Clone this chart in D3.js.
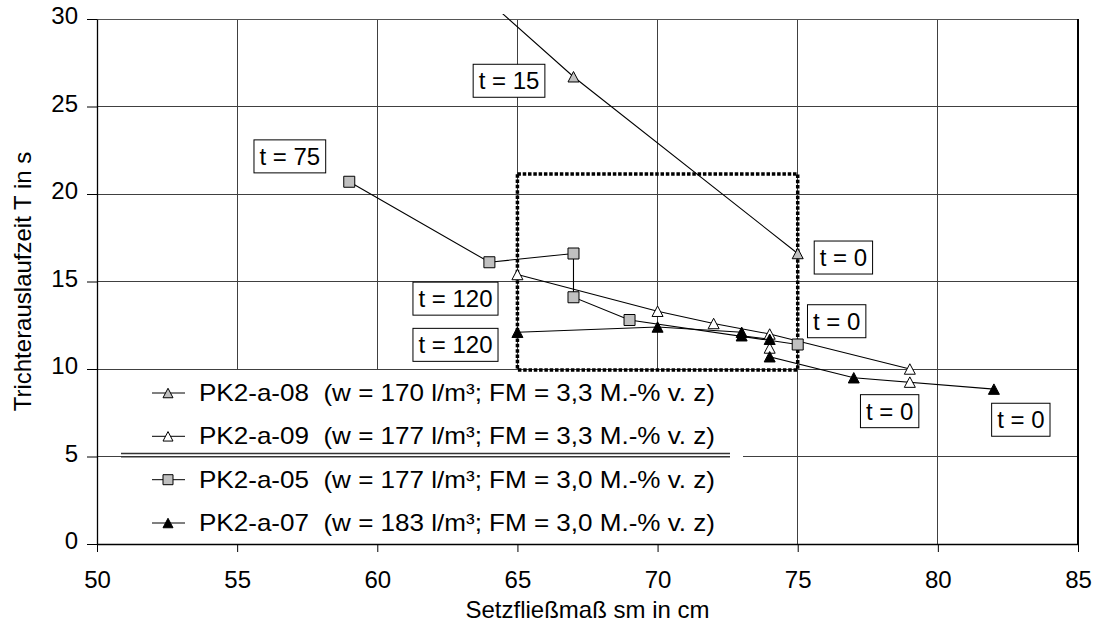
<!DOCTYPE html>
<html>
<head>
<meta charset="utf-8">
<script src="https://cdn.jsdelivr.net/npm/d3@7"></script>
<style>
  html, body { margin: 0; padding: 0; background: #fff; }
  svg { display: block; font-family: "Liberation Sans", Arial, sans-serif; }
</style>
</head>
<body>
<svg id="chart" width="1097" height="626"></svg>
<script>
// ---------- data ----------
const xTicks = [50, 55, 60, 65, 70, 75, 80, 85];
const yTicks = [0, 5, 10, 15, 20, 25, 30];

const seriesNames = ["PK2-a-08", "PK2-a-09", "PK2-a-05", "PK2-a-07"];
const seriesInfo = [
  "(w = 170 l/m³; FM = 3,3 M.-% v. z)",
  "(w = 177 l/m³; FM = 3,3 M.-% v. z)",
  "(w = 177 l/m³; FM = 3,0 M.-% v. z)",
  "(w = 183 l/m³; FM = 3,0 M.-% v. z)"
];

const pk08X = [75, 67, 63];
const pk08Y = [16.6, 26.7, 32.4];

const pk09X = [79, 74, 72, 70, 65];
const pk09Y = [10.0, 12.0, 12.6, 13.3, 15.4];
const pk09bX = [79, 74];          // unconnected points
const pk09bY = [9.25, 11.2];

const pk05X = [75, 69, 67, 67, 64, 59];
const pk05Y = [11.4, 12.8, 14.1, 16.6, 16.1, 20.7];

const pk07X = [82, 77, 74, 74, 73, 73, 70, 65];
const pk07Y = [8.85, 9.5, 10.7, 11.7, 11.9, 12.1, 12.4, 12.1];

const annText = ["t = 15", "t = 75", "t = 120", "t = 120", "t = 0", "t = 0", "t = 0", "t = 0"];
const annX = [64.70, 56.88, 62.79, 62.79, 76.63, 76.39, 78.28, 82.96];
const annY = [26.47, 22.15, 14.02, 11.38, 16.37, 12.73, 7.59, 7.10];

const regionX = [65, 75];
const regionY = [9.95, 21.15];

// ---------- layout ----------
const L = 97, R = 1078, T = 19, B = 544;
const FONT = 24;
const svg = d3.select("#chart");
const x = d3.scaleLinear().domain([50, 85]).range([L, R]);
const y = d3.scaleLinear().domain([0, 30]).range([B, T]);

svg.append("defs").append("clipPath").attr("id", "clip")
  .append("rect").attr("x", L).attr("y", T - 5).attr("width", R - L).attr("height", B - T + 5);

// gridlines
const grid = svg.append("g").attr("shape-rendering", "crispEdges");
grid.selectAll(".vg").data(xTicks.filter(d => d > 50 && d < 85)).enter().append("line")
  .attr("x1", d => x(d)).attr("x2", d => x(d)).attr("y1", T).attr("y2", B)
  .attr("stroke", "#404040").attr("stroke-width", 1);
grid.selectAll(".hg").data(yTicks.filter(d => d > 0 && d < 30)).enter().append("line")
  .attr("x1", L).attr("x2", R).attr("y1", d => y(d)).attr("y2", d => y(d))
  .attr("stroke", "#404040").attr("stroke-width", 1);
// top border
grid.append("line").attr("x1", L).attr("x2", R).attr("y1", y(30)).attr("y2", y(30))
  .attr("stroke", "#555").attr("stroke-width", 1);

// legend background
const legX0 = 121, legX1 = 743, legY0 = y(10) + 1;
svg.append("rect").attr("x", legX0).attr("y", legY0).attr("width", legX1 - legX0)
  .attr("height", B - legY0).attr("fill", "#fff");

// dotted region
svg.append("rect")
  .attr("x", x(regionX[0])).attr("y", y(regionY[1]))
  .attr("width", x(regionX[1]) - x(regionX[0])).attr("height", y(regionY[0]) - y(regionY[1]))
  .attr("fill", "none").attr("stroke", "#000").attr("stroke-width", 3.5)
  .attr("stroke-dasharray", "3.5,1.8");

// right border
svg.append("line").attr("x1", R).attr("x2", R).attr("y1", T).attr("y2", B)
  .attr("stroke", "#000").attr("stroke-width", 2);

// axes
const xAxis = d3.axisBottom(x).tickValues(xTicks).tickSize(8).tickSizeOuter(0).tickPadding(19);
const yAxis = d3.axisLeft(y).tickValues(yTicks).tickSize(10).tickSizeOuter(0).tickPadding(9);
const gx = svg.append("g").attr("transform", `translate(0,${B})`).call(xAxis);
const gy = svg.append("g").attr("transform", `translate(${L},0)`).call(yAxis);
[gx, gy].forEach(g => {
  g.selectAll("text").attr("font-size", FONT).attr("fill", "#000")
    .attr("font-family", "'Liberation Sans', Arial, sans-serif");
  g.selectAll("line").attr("stroke", "#000");
  g.select(".domain").attr("stroke", "#000").attr("stroke-width", 1.3);
});
gy.selectAll("text").attr("dy", "0.2em");

// axis titles
svg.append("text").attr("x", (L + R) / 2).attr("y", 618).attr("text-anchor", "middle")
  .attr("font-size", FONT).text("Setzfließmaß sm in cm");
svg.append("text").attr("transform", `translate(31,${(T + B) / 2}) rotate(-90)`)
  .attr("text-anchor", "middle").attr("font-size", FONT).text("Trichterauslaufzeit T in s");

// markers
function triPath(s) {
  const h = s * 0.95;
  return `M0,${-h / 2}L${s / 2},${h / 2}L${-s / 2},${h / 2}Z`;
}
function sqPath(s) {
  return `M${-s / 2},${-s / 2}h${s}v${s}h${-s}Z`;
}
const styles = [
  { path: triPath, fill: "#c0c0c0" },
  { path: triPath, fill: "#ffffff" },
  { path: sqPath, fill: "#c0c0c0" },
  { path: triPath, fill: "#000000" }
];

// legend
const legBase = [401, 444.3, 487.7, 531];
const leg = svg.append("g");
seriesNames.forEach((n, i) => {
  const cy = legBase[i] - 8;
  leg.append("line").attr("x1", 152).attr("x2", 185).attr("y1", cy).attr("y2", cy)
    .attr("stroke", "#000").attr("stroke-width", 1);
  leg.append("path").attr("d", styles[i].path(10)).attr("transform", `translate(168,${cy})`)
    .attr("fill", styles[i].fill).attr("stroke", "#000").attr("stroke-width", 1);
  leg.append("text").attr("x", 199).attr("y", legBase[i]).attr("font-size", FONT)
    .attr("textLength", 516).attr("lengthAdjust", "spacingAndGlyphs")
    .attr("xml:space", "preserve").style("white-space", "pre")
    .text(n + "  " + seriesInfo[i]);
});
// double separator line
[453.5, 456.8].forEach(yy => {
  leg.append("line").attr("x1", 121).attr("x2", 730).attr("y1", yy).attr("y2", yy)
    .attr("stroke", "#333").attr("stroke-width", 1.4);
});

// series
const seriesData = [
  { xs: pk08X, ys: pk08Y, line: true, st: 0 },
  { xs: pk09X, ys: pk09Y, line: true, st: 1 },
  { xs: pk09bX, ys: pk09bY, line: false, st: 1 },
  { xs: pk05X, ys: pk05Y, line: true, st: 2 },
  { xs: pk07X, ys: pk07Y, line: true, st: 3 }
];
const lineGen = d3.line().x(d => x(d[0])).y(d => y(d[1]));
const plotG = svg.append("g").attr("clip-path", "url(#clip)");
seriesData.forEach(s => {
  const pts = s.xs.map((v, i) => [v, s.ys[i]]);
  if (s.line) {
    plotG.append("path").attr("d", lineGen(pts)).attr("fill", "none")
      .attr("stroke", "#000").attr("stroke-width", 1.1);
  }
});
seriesData.forEach(s => {
  const pts = s.xs.map((v, i) => [v, s.ys[i]]);
  plotG.selectAll(null).data(pts.filter(p => p[1] <= 30)).enter().append("path")
    .attr("d", styles[s.st].path(11))
    .attr("transform", p => `translate(${x(p[0])},${y(p[1])})`)
    .attr("fill", styles[s.st].fill).attr("stroke", "#000").attr("stroke-width", 1);
});

// annotations
const annG = svg.append("g");
annText.forEach((t, i) => {
  const g = annG.append("g").attr("transform", `translate(${x(annX[i])},${y(annY[i])})`);
  const rect = g.append("rect");
  const txt = g.append("text").attr("text-anchor", "middle").attr("y", 8.5)
    .attr("font-size", FONT).text(t);
  const w = txt.node().getComputedTextLength() + 11;
  rect.attr("x", -w / 2).attr("y", -16.5).attr("width", w).attr("height", 33)
    .attr("fill", "#fff").attr("stroke", "#000").attr("stroke-width", 1);
});
</script>
</body>
</html>
